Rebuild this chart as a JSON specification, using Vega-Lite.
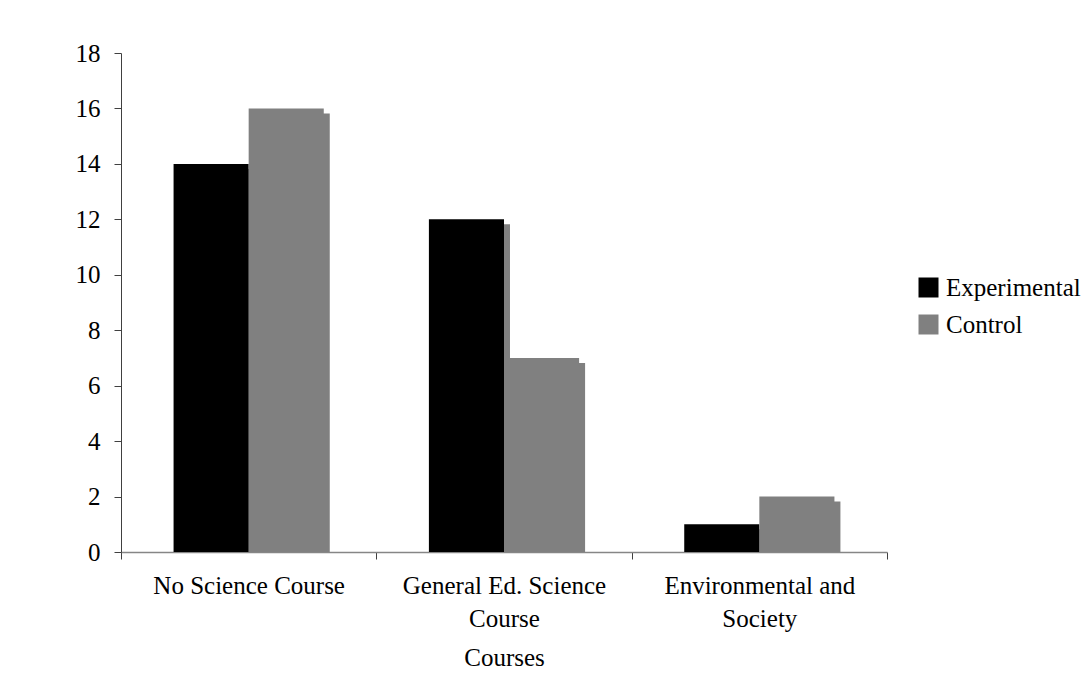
{
  "$schema": "https://vega.github.io/schema/vega-lite/v6.json",
  "autosize": {"type": "none"},
  "padding": {"left": 121, "top": 53, "right": 205, "bottom": 148},
  "width": 766,
  "height": 499,
  "background": "white",
  "config": {
    "view": {"stroke": null},
    "font": "Liberation Serif"
  },
  "data": {
    "values": [
      {"course": "No Science Course", "group": "Experimental", "value": 14},
      {"course": "No Science Course", "group": "Control", "value": 16},
      {"course": "General Ed. Science Course", "group": "Experimental", "value": 12},
      {"course": "General Ed. Science Course", "group": "Control", "value": 7},
      {"course": "Environmental and Society", "group": "Experimental", "value": 1},
      {"course": "Environmental and Society", "group": "Control", "value": 2}
    ]
  },
  "encoding": {
    "x": {
      "field": "course",
      "type": "nominal",
      "sort": null,
      "scale": {"paddingInner": 0, "paddingOuter": 0},
      "axis": {
        "title": "Courses",
        "titleFont": "Liberation Serif",
        "titleFontSize": 25,
        "titleFontWeight": "normal",
        "titleColor": "black",
        "titlePadding": 14,
        "labelAngle": 0,
        "labelFont": "Liberation Serif",
        "labelFontSize": 25,
        "labelColor": "black",
        "labelLimit": 0,
        "labelLineHeight": 33,
        "labelPadding": 14,
        "labelExpr": "datum.value == 'General Ed. Science Course' ? ['General Ed. Science', 'Course'] : datum.value == 'Environmental and Society' ? ['Environmental and', 'Society'] : datum.value",
        "tickBand": "extent",
        "tickSize": 7,
        "tickColor": "#404040",
        "domainColor": "#868686",
        "domainWidth": 1.5,
        "grid": false
      }
    },
    "y": {
      "field": "value",
      "type": "quantitative",
      "scale": {"domain": [0, 18], "nice": false},
      "axis": {
        "title": null,
        "values": [0, 2, 4, 6, 8, 10, 12, 14, 16, 18],
        "labelFont": "Liberation Serif",
        "labelFontSize": 25,
        "labelColor": "black",
        "labelPadding": 14,
        "tickSize": 7,
        "tickColor": "#404040",
        "domainColor": "#404040",
        "grid": false
      }
    }
  },
  "layer": [
    {
      "mark": {"type": "bar", "color": "#808080", "yOffset": 5, "clip": true},
      "encoding": {
        "xOffset": {
          "field": "group",
          "type": "nominal",
          "sort": ["Experimental", "Control"],
          "scale": {"paddingInner": 0, "paddingOuter": 0.7, "align": 0.557}
        }
      }
    },
    {
      "mark": {"type": "bar"},
      "encoding": {
        "xOffset": {
          "field": "group",
          "type": "nominal",
          "sort": ["Experimental", "Control"],
          "scale": {"paddingInner": 0, "paddingOuter": 0.7}
        },
        "color": {
          "field": "group",
          "type": "nominal",
          "sort": ["Experimental", "Control"],
          "scale": {"domain": ["Experimental", "Control"], "range": ["#000000", "#808080"]},
          "legend": {
            "title": null,
            "orient": "none",
            "legendX": 795,
            "legendY": 222,
            "symbolType": "square",
            "symbolSize": 400,
            "symbolStrokeWidth": 0,
            "labelFont": "Liberation Serif",
            "labelFontSize": 25,
            "labelColor": "black",
            "labelOffset": 5,
            "rowPadding": 11
          }
        }
      }
    }
  ],
  "resolve": {"scale": {"xOffset": "independent"}}
}
